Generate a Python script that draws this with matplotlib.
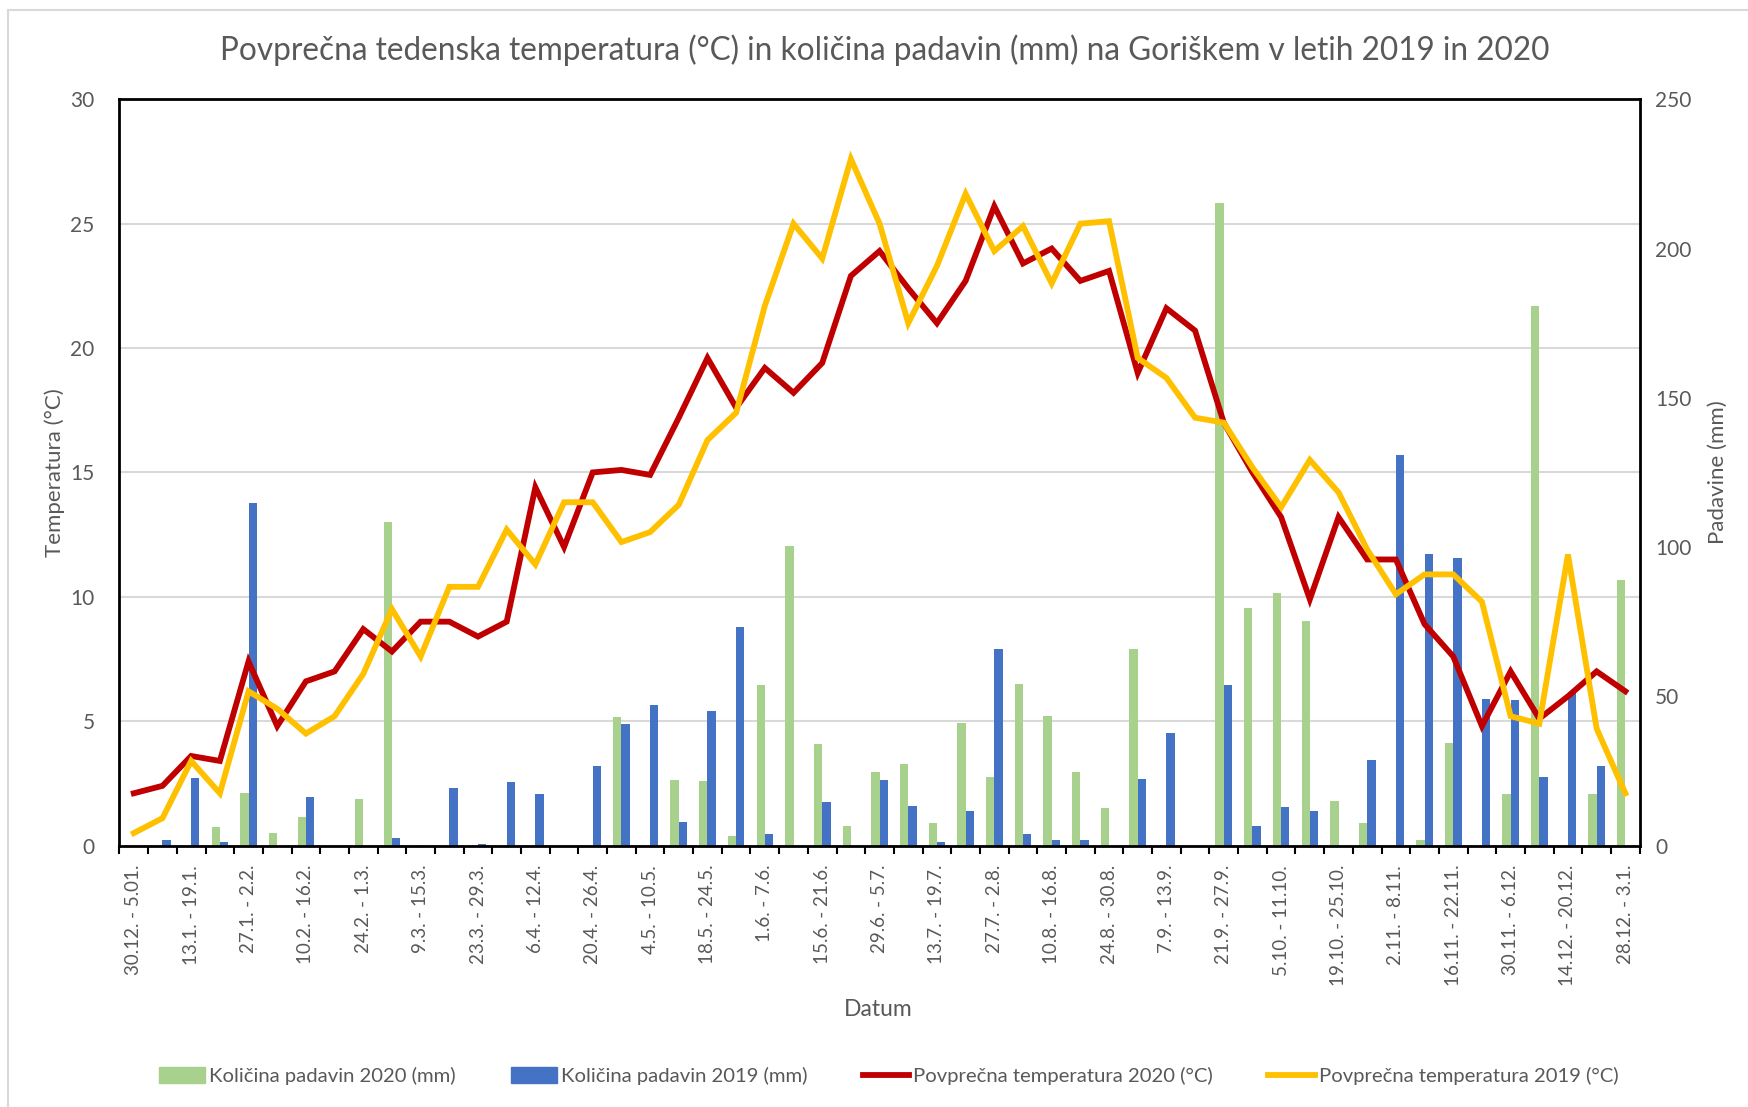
"""
Tedenska temperatura in padavine, Goriško 2019/2020
"""
import numpy as np
import matplotlib.pyplot as plt
from matplotlib.patches import Patch, Rectangle
from matplotlib.lines import Line2D

plt.rcParams['font.family'] = ['Lato', 'DejaVu Sans']

# tick labels (every second week is labelled)
week_labels = ['30.12. - 5.01.', '13.1. - 19.1.', '27.1. - 2.2.', '10.2. - 16.2.',
               '24.2. - 1.3.', '9.3. - 15.3.', '23.3. - 29.3.', '6.4. - 12.4.',
               '20.4. - 26.4.', '4.5. - 10.5.', '18.5. - 24.5.', '1.6. - 7.6.',
               '15.6. - 21.6.', '29.6. - 5.7.', '13.7. - 19.7.', '27.7. - 2.8.',
               '10.8. - 16.8.', '24.8. - 30.8.', '7.9. - 13.9.', '21.9. - 27.9.',
               '5.10. - 11.10.', '19.10. - 25.10.', '2.11. - 8.11.', '16.11. - 22.11.',
               '30.11. - 6.12.', '14.12. - 20.12.', '28.12. - 3.1.']

# average weekly temperature (°C)
temp_2020 = [2.1, 2.4, 3.6, 3.4, 7.4, 4.8, 6.6, 7.0, 8.7, 7.8, 9.0, 9.0, 8.4, 9.0,
             14.4, 12.0, 15.0, 15.1, 14.9, 17.2, 19.6, 17.6, 19.2, 18.2, 19.4, 22.9,
             23.9, 22.4, 21.0, 22.7, 25.7, 23.4, 24.0, 22.7, 23.1, 19.0, 21.6, 20.7,
             17.0, 15.0, 13.2, 9.9, 13.2, 11.5, 11.5, 8.9, 7.6, 4.8, 7.0, 5.1, 6.0,
             7.0, 6.2]
temp_2019 = [0.5, 1.1, 3.4, 2.1, 6.2, 5.5, 4.5, 5.2, 6.9, 9.5, 7.6, 10.4, 10.4, 12.7,
             11.3, 13.8, 13.8, 12.2, 12.6, 13.7, 16.3, 17.4, 21.7, 25.0, 23.6, 27.6,
             25.0, 21.0, 23.3, 26.2, 23.9, 24.9, 22.6, 25.0, 25.1, 19.6, 18.8, 17.2,
             17.0, 15.2, 13.6, 15.5, 14.2, 11.9, 10.1, 10.9, 10.9, 9.8, 5.2, 4.9, 11.7,
             4.7, 2.1]

# weekly precipitation (mm)
rain_2020 = [0, 0, 0, 6.3, 17.5, 4.3, 9.5, 0, 15.7, 108.5, 0.3, 0, 0, 0, 0, 0, 0,
             43.0, 0, 21.8, 21.5, 3.3, 53.8, 100.2, 34.0, 6.5, 24.7, 27.3, 7.5, 41.2,
             23.0, 54.2, 43.3, 24.7, 12.7, 65.8, 0, 0, 215.2, 79.7, 84.5, 75.3, 14.8,
             7.5, 0, 1.7, 34.5, 0, 17.2, 180.7, 0, 17.2, 88.8]
rain_2019 = [0, 1.7, 22.5, 1.3, 114.8, 0, 16.3, 0, 0, 2.5, 0, 19.2, 0.5, 21.3, 17.2,
             0, 26.7, 40.7, 47.2, 7.8, 45.2, 73.3, 3.7, 0, 14.5, 0, 21.8, 13.3, 1.3,
             11.7, 66.0, 3.7, 1.7, 2.0, 0, 22.3, 37.8, 0, 53.8, 6.5, 12.8, 11.7, 0,
             28.5, 130.8, 97.8, 96.2, 49.0, 48.7, 23.0, 51.3, 26.5, 0]

T_MAX = 30
P_MAX = 250
GREY = '#595959'
c_green, c_blue, c_red, c_yellow = '#A9D18E', '#4472C4', '#C00000', '#FFC000'

x = np.arange(len(temp_2020))
w = 0.29

fig = plt.figure(figsize=(17.49, 11.07), dpi=100)
ax = fig.add_axes([0.0683, 0.2362, 0.8692, 0.6741])

# precipitation bars in temperature units, right axis shows mm
k = T_MAX / P_MAX
ax.bar(x - w / 2, np.array(rain_2020) * k, width=w, color=c_green, zorder=2)
ax.bar(x + w / 2, np.array(rain_2019) * k, width=w, color=c_blue, zorder=2)
ax.plot(x, temp_2020, color=c_red, lw=4.2, zorder=3, solid_joinstyle='miter')
ax.plot(x, temp_2019, color=c_yellow, lw=4.2, zorder=3, solid_joinstyle='miter')

ax.set_xlim(-0.5, len(x) - 0.5)
ax.set_ylim(0, T_MAX)
ax.set_yticks(np.arange(0, T_MAX + 1, 5))
ax.yaxis.grid(True, color='#D9D9D9', lw=1.5)
ax.set_axisbelow(True)
ax.tick_params(axis='y', length=0, pad=18, labelsize=15, labelcolor=GREY)

ax.set_xticks(x[::2])
ax.set_xticklabels(week_labels, rotation=90, fontsize=13.5, color=GREY)
ax.set_xticks(np.arange(-0.5, len(x)), minor=True)
ax.tick_params(axis='x', which='major', length=0, pad=14)
ax.tick_params(axis='x', which='minor', length=6, width=1.5, direction='out')

for s in ax.spines.values():
    s.set_linewidth(2)
    s.set_color('black')

sec = ax.secondary_yaxis('right', functions=(lambda t: t / k, lambda p: p * k))
sec.set_yticks(np.arange(0, P_MAX + 1, 50))
sec.tick_params(length=0, pad=11, labelsize=15, labelcolor=GREY)
sec.spines['right'].set_visible(False)
sec.set_ylabel('Padavine (mm)', fontsize=16, color=GREY, labelpad=12)

ax.set_ylabel('Temperatura (°C)', fontsize=16, color=GREY, labelpad=4)
fig.text(0.502, 0.088, 'Datum', ha='center', va='center', fontsize=16.5, color=GREY)
fig.text(0.506, 0.955,
         'Povprečna tedenska temperatura (°C) in količina padavin (mm) na Goriškem v letih 2019 in 2020',
         ha='center', va='center', fontsize=22.7, color=GREY)

handles = [Patch(color=c_green), Patch(color=c_blue),
           Line2D([], [], color=c_red, lw=4.2), Line2D([], [], color=c_yellow, lw=4.2)]
names = ['Količina padavin 2020 (mm)', 'Količina padavin 2019 (mm)',
         'Povprečna temperatura 2020 (°C)', 'Povprečna temperatura 2019 (°C)']
leg = fig.legend(handles, names, loc='center', bbox_to_anchor=(0.508, 0.028), ncol=4,
                 frameon=False, fontsize=14.6, handlelength=2.3, handleheight=0.8,
                 handletextpad=0.2, columnspacing=2.7)
for t in leg.get_texts():
    t.set_color(GREY)

# light chart-area border
fig.add_artist(Rectangle((8 / 1749, -0.05), 1.1, 1 - 10 / 1107 + 0.05,
                         transform=fig.transFigure, fill=False, ec='#D9D9D9', lw=1.5))

fig.savefig('out.png', dpi=100)
